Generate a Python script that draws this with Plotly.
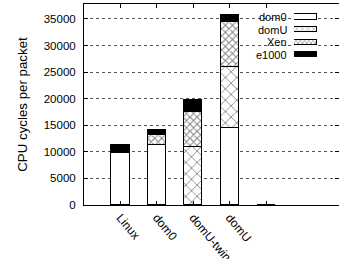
import plotly.graph_objects as go

categories = ["Linux", "dom0", "domU-twin", "domU", ""]
dom0 = [9800, 11200, 0, 14500, 50]
domU = [0, 0, 10900, 11500, 0]
xen = [0, 1900, 6600, 8400, 0]
e1000 = [1500, 950, 2300, 1400, 0]
series_names = ["dom0", "domU", "Xen", "e1000"]
y_ticks = [0, 5000, 10000, 15000, 20000, 25000, 30000, 35000]

FONT = "Liberation Sans, Arial, sans-serif"

styles = {
    "dom0": dict(color="white", pattern=dict(shape="")),
    "domU": dict(color="white", pattern=dict(shape="x", size=8, solidity=0.2, fgcolor="black", bgcolor="white")),
    "Xen": dict(color="white", pattern=dict(shape="x", size=5, solidity=0.35, fgcolor="black", bgcolor="white")),
    "e1000": dict(color="black", pattern=dict(shape="")),
}
values = {"dom0": dom0, "domU": domU, "Xen": xen, "e1000": e1000}

xpos = list(range(len(categories)))
fig = go.Figure()
for name in series_names:
    st = styles[name]
    fig.add_trace(go.Bar(
        x=xpos, y=values[name], name=name, width=0.5,
        marker=dict(color=st["color"], pattern=st["pattern"], line=dict(color="black", width=1)),
        showlegend=False, xaxis="x", yaxis="y",
    ))
fig.add_trace(go.Scatter(x=[0], y=[0], yaxis="y2", xaxis="x", mode="markers",
                         marker=dict(opacity=0), showlegend=False, hoverinfo="skip"))

# legend samples drawn in a small inset axis
leg_pat = {
    "dom0": dict(shape=""),
    "domU": dict(shape="x", size=4, solidity=0.2, fgcolor="black", bgcolor="white"),
    "Xen": dict(shape="x", size=3, solidity=0.35, fgcolor="black", bgcolor="white"),
    "e1000": dict(shape=""),
}
for name in series_names:
    fig.add_trace(go.Bar(
        y=[name], x=[1], orientation="h", width=0.4,
        marker=dict(color=styles[name]["color"], pattern=leg_pat[name], line=dict(color="black", width=1)),
        showlegend=False, xaxis="x2", yaxis="y3", hoverinfo="skip",
    ))

fig.update_layout(
    width=339, height=259,
    margin=dict(l=84, r=0, t=4, b=54),
    paper_bgcolor="white", plot_bgcolor="white",
    barmode="stack", bargap=0,
    font=dict(family=FONT, size=11, color="black"),
    xaxis=dict(
        range=[-1, 6], tickvals=xpos, ticktext=categories, tickangle=50,
        showline=True, linecolor="black", linewidth=1, mirror="ticks",
        ticks="inside", ticklen=4, tickcolor="black", showgrid=False, zeroline=False,
        tickfont=dict(family=FONT, size=12), automargin=False,
    ),
    yaxis=dict(
        range=[0, 37800], tickvals=y_ticks, ticktext=[str(v) for v in y_ticks],
        showline=True, linecolor="black", linewidth=1, mirror=False,
        ticks="inside", ticklen=4, tickcolor="black",
        showgrid=True, gridcolor="#555", griddash="dot", gridwidth=1, zeroline=False,
        tickfont=dict(family=FONT, size=11.5), ticklabelstandoff=5, automargin=False,
        title=dict(text="CPU cycles per packet", font=dict(family=FONT, size=13.3), standoff=13),
    ),
    yaxis2=dict(
        range=[0, 37800], tickvals=y_ticks, showticklabels=False, overlaying="y", side="right",
        ticks="inside", ticklen=4, tickcolor="black", showline=False, showgrid=False,
        zeroline=False, automargin=False,
    ),
    xaxis2=dict(domain=[0.8235, 0.9137], range=[0, 1], visible=False, anchor="y3", automargin=False),
    yaxis3=dict(domain=[0.708, 0.975], visible=False, anchor="x2", type="category",
                autorange="reversed", automargin=False,
                categoryorder="array", categoryarray=series_names),
)

fig.add_shape(type="rect", xref="paper", yref="paper", x0=0.655, x1=0.975, y0=0.70, y1=0.985,
              fillcolor="white", line=dict(width=0), layer="between")
for name in series_names:
    fig.add_annotation(xref="x2", yref="y3", x=0, y=name, text=name, xanchor="right",
                       xshift=-5, showarrow=False, font=dict(family=FONT, size=11))

fig.write_html("out.html")
